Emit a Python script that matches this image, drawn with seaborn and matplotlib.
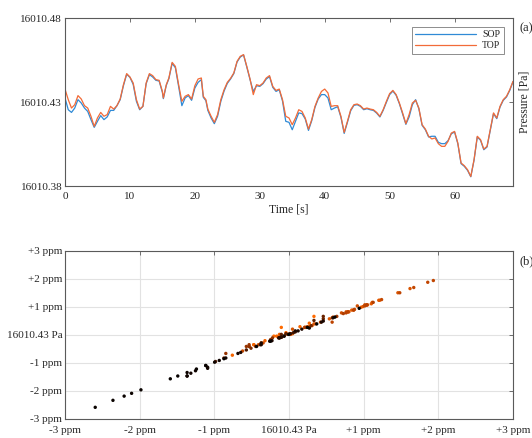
import numpy as np
import pandas as pd
import matplotlib
matplotlib.use("Agg")
import matplotlib.pyplot as plt
from matplotlib.colors import LinearSegmentedColormap
import seaborn as sns

# ---------------- data ----------------
time_s = [0, 0.5, 1, 1.5, 2, 2.5, 3, 3.5, 4, 4.5, 5, 5.5, 6, 6.5, 7, 7.5, 8, 8.5, 9, 9.5,
          10, 10.5, 11, 11.5, 12, 12.5, 13, 13.5, 14, 14.5, 15, 15.15, 15.6, 16, 16.5, 17, 17.5, 18, 18.5, 19,
          19.5, 20, 20.5, 21, 21.3, 21.7, 22, 22.5, 23, 23.5, 24, 24.5, 25, 25.5, 26, 26.5, 27, 27.5, 28, 28.5,
          29, 29.5, 30, 30.5, 31, 31.5, 32, 32.5, 33, 33.5, 34, 34.5, 35, 35.5, 36, 36.5, 37, 37.5, 38, 38.5,
          39, 39.5, 40, 40.5, 41, 41.5, 42, 42.5, 43, 43.5, 44, 44.5, 45, 45.5, 46, 46.5, 47, 47.5, 48, 48.5,
          49, 49.5, 50, 50.5, 51, 51.5, 52, 52.5, 53, 53.5, 54, 54.5, 55, 55.5, 56, 56.5, 57, 57.5, 58, 58.5,
          59, 59.5, 60, 60.5, 61, 61.5, 62, 62.5, 63, 63.5, 64, 64.5, 65, 65.5, 66, 66.5, 67, 67.5, 68, 68.5, 69]

top_pa = [16010.4377, 16010.4314, 16010.4264, 16010.4284, 16010.4338, 16010.4318, 16010.4278, 16010.4264,
          16010.4215, 16010.4155, 16010.4205, 16010.4238, 16010.4215, 16010.4225, 16010.4274, 16010.4258,
          16010.4278, 16010.4318, 16010.4403, 16010.4469, 16010.4449, 16010.4413, 16010.4314, 16010.4258,
          16010.4274, 16010.4413, 16010.4469, 16010.4457, 16010.4433, 16010.4429, 16010.4363, 16010.4324,
          16010.4403, 16010.4443, 16010.4536, 16010.4512, 16010.4403, 16010.4304, 16010.4334, 16010.4344,
          16010.4318, 16010.4397, 16010.4437, 16010.4443, 16010.4334, 16010.4314, 16010.4258, 16010.4215,
          16010.4179, 16010.4225, 16010.4314, 16010.4373, 16010.4417, 16010.4441, 16010.4473, 16010.4542,
          16010.4572, 16010.4582, 16010.4512, 16010.4437, 16010.4344, 16010.4403, 16010.4397, 16010.4413,
          16010.4443, 16010.4457, 16010.4393, 16010.4369, 16010.4377, 16010.4314, 16010.4215, 16010.4205,
          16010.4165, 16010.4205, 16010.4254, 16010.4244, 16010.4205, 16010.4139, 16010.4195, 16010.4274,
          16010.4324, 16010.4363, 16010.4377, 16010.4354, 16010.4274, 16010.4278, 16010.4278, 16010.4215,
          16010.4119, 16010.4185, 16010.4254, 16010.4284, 16010.4288, 16010.4278, 16010.4258, 16010.4264,
          16010.4258, 16010.4254, 16010.4238, 16010.4215, 16010.4254, 16010.4304, 16010.4350, 16010.4369,
          16010.4344, 16010.4294, 16010.4235, 16010.4171, 16010.4225, 16010.4294, 16010.4310, 16010.4264,
          16010.4165, 16010.4139, 16010.4096, 16010.4080, 16010.4086, 16010.4052, 16010.4036, 16010.4036,
          16010.4066, 16010.4115, 16010.4125, 16010.4056, 16010.3937, 16010.3921, 16010.3897, 16010.3857,
          16010.3957, 16010.4096, 16010.4076, 16010.4020, 16010.4036, 16010.4135, 16010.4235, 16010.4205,
          16010.4274, 16010.4314, 16010.4334, 16010.4373, 16010.4423]

sop_pa = [16010.4324, 16010.4254, 16010.4238, 16010.4264, 16010.4314, 16010.4294, 16010.4264, 16010.4244,
          16010.4195, 16010.4149, 16010.4185, 16010.4219, 16010.4195, 16010.4211, 16010.4250, 16010.4250,
          16010.4278, 16010.4314, 16010.4397, 16010.4465, 16010.4447, 16010.4405, 16010.4304, 16010.4254,
          16010.4274, 16010.4409, 16010.4463, 16010.4449, 16010.4429, 16010.4425, 16010.4357, 16010.4320,
          16010.4399, 16010.4439, 16010.4530, 16010.4504, 16010.4393, 16010.4278, 16010.4324, 16010.4338,
          16010.4310, 16010.4383, 16010.4417, 16010.4433, 16010.4328, 16010.4308, 16010.4250, 16010.4205,
          16010.4171, 16010.4215, 16010.4304, 16010.4365, 16010.4411, 16010.4437, 16010.4469, 16010.4538,
          16010.4568, 16010.4580, 16010.4508, 16010.4433, 16010.4363, 16010.4397, 16010.4393, 16010.4409,
          16010.4437, 16010.4451, 16010.4387, 16010.4363, 16010.4373, 16010.4306, 16010.4185, 16010.4179,
          16010.4135, 16010.4185, 16010.4235, 16010.4231, 16010.4199, 16010.4131, 16010.4189, 16010.4268,
          16010.4318, 16010.4344, 16010.4344, 16010.4324, 16010.4254, 16010.4264, 16010.4272, 16010.4209,
          16010.4113, 16010.4179, 16010.4248, 16010.4280, 16010.4284, 16010.4274, 16010.4254, 16010.4260,
          16010.4254, 16010.4250, 16010.4234, 16010.4211, 16010.4250, 16010.4298, 16010.4344, 16010.4365,
          16010.4340, 16010.4290, 16010.4229, 16010.4167, 16010.4211, 16010.4284, 16010.4314, 16010.4260,
          16010.4161, 16010.4135, 16010.4092, 16010.4096, 16010.4096, 16010.4060, 16010.4052, 16010.4052,
          16010.4070, 16010.4111, 16010.4121, 16010.4052, 16010.3933, 16010.3917, 16010.3893, 16010.3855,
          16010.3953, 16010.4092, 16010.4072, 16010.4016, 16010.4032, 16010.4131, 16010.4231, 16010.4201,
          16010.4270, 16010.4310, 16010.4330, 16010.4369, 16010.4421]

series_names = ["SOP", "TOP"]
series_colors = ["#2F8AD6", "#F26B38"]
xticks_top = [0, 10, 20, 30, 40, 50, 60]
yticks_top = [16010.38, 16010.43, 16010.48]
ppm_ticks = [-3, -2, -1, 0, 1, 2, 3]
ppm_labels = ["-3 ppm", "-2 ppm", "-1 ppm", "16010.43 Pa", "+1 ppm", "+2 ppm", "+3 ppm"]

# ---------------- style ----------------
sns.set_theme(style="white")
plt.rcParams["font.family"] = ["Liberation Serif", "DejaVu Serif"]
plt.rcParams["font.size"] = 8

fig = plt.figure(figsize=(5.32, 4.38), dpi=100)
ax1 = fig.add_axes([65 / 532, 1 - 186 / 438, 448 / 532, 168 / 438])
ax2 = fig.add_axes([65 / 532, 1 - 419 / 438, 448 / 532, 168 / 438])

spine_col = "#5a5a5a"

# ---------------- (a) time series ----------------
df = pd.DataFrame({
    "t": time_s * 2,
    "p": sop_pa + top_pa,
    "series": [series_names[0]] * len(time_s) + [series_names[1]] * len(time_s),
})
sns.lineplot(data=df, x="t", y="p", hue="series", palette=dict(zip(series_names, series_colors)),
             linewidth=0.9, ax=ax1, legend=True)
ax1.set_xlim(0, 69)
ax1.set_ylim(16010.38, 16010.48)
ax1.set_xticks(xticks_top)
ax1.set_yticks(yticks_top)
ax1.set_yticklabels([f"{v:.2f}" for v in yticks_top])
ax1.set_xlabel("Time [s]", fontsize=8.5, labelpad=2)
ax1.set_ylabel("Pressure [Pa]", fontsize=8.5)
ax1.yaxis.set_label_position("right")
ax1.tick_params(axis="both", direction="in", length=3, width=0.6, color=spine_col, top=True, right=True,
                labelsize=8)
ax1.tick_params(axis="x", pad=4)
ax1.tick_params(axis="y", pad=2)
leg = ax1.legend(loc="upper right", fontsize=7, frameon=True, fancybox=False,
                 edgecolor=spine_col, handlelength=6.3, handletextpad=0.6,
                 borderpad=0.35, labelspacing=0.2, bbox_to_anchor=(0.99, 0.975))
leg.get_frame().set_linewidth(0.6)
for s in ax1.spines.values():
    s.set_color(spine_col)
    s.set_linewidth(0.8)

# ---------------- (b) scatter ----------------
sop_arr = np.array(sop_pa)
top_arr = np.array(top_pa)
ref = sop_arr.mean()
sc = pd.DataFrame({
    "x": (sop_arr - ref) / ref * 1e6,
    "y": (top_arr - ref) / ref * 1e6,
    "t": time_s,
})
cmap = LinearSegmentedColormap.from_list(
    "ob", [(0.0, "#FF6A00"), (0.45, "#B84000"), (0.7, "#200800"), (1.0, "#000000")])
sns.scatterplot(data=sc, x="x", y="y", hue="t", palette=cmap, s=6, linewidth=0,
                ax=ax2, legend=False)
ax2.set_xlim(-3, 3)
ax2.set_ylim(-3, 3)
ax2.set_xticks(ppm_ticks)
ax2.set_yticks(ppm_ticks)
ax2.set_xticklabels(ppm_labels)
ax2.set_yticklabels(ppm_labels)
ax2.set_xlabel("")
ax2.set_ylabel("")
ax2.grid(True, color="#e2e2e2", linewidth=0.8)
ax2.set_axisbelow(True)
ax2.tick_params(axis="both", direction="in", length=3, width=0.6, color=spine_col, top=True, right=True,
                labelsize=8)
ax2.tick_params(axis="x", pad=5)
ax2.tick_params(axis="y", pad=2)
for s in ax2.spines.values():
    s.set_color(spine_col)
    s.set_linewidth(0.8)

fig.text(519 / 532, 1 - 28 / 438, "(a)", fontsize=9, va="center", ha="left")
fig.text(519 / 532, 1 - 261 / 438, "(b)", fontsize=9, va="center", ha="left")

fig.savefig("out.png", dpi=100)
